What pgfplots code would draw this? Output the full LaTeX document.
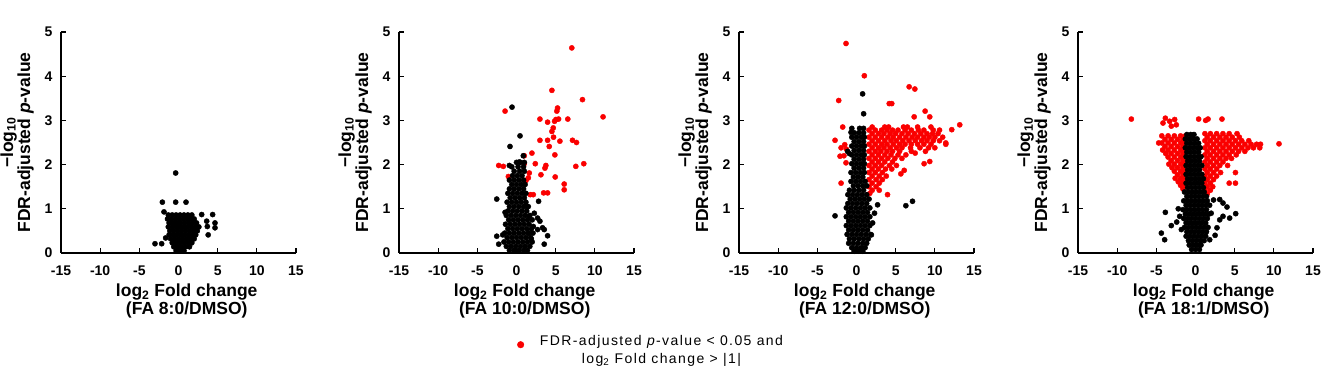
\documentclass[border=0pt]{standalone}
\usepackage{pgfplots}
\pgfplotsset{compat=1.18}
\usepackage{fontspec}
\setmainfont{Liberation Sans}
\newfontfamily\legfont[LetterSpace=10]{Liberation Sans}
\definecolor{myred}{RGB}{250,0,0}
\pgfplotsset{
 volc/.style={
  scale only axis, width=235pt, height=221pt,
  xmin=-15, xmax=15, ymin=0, ymax=5,
  axis x line=bottom, axis y line=left,
  axis line style={-, line width=1.4pt},
  xtick={-15,-10,-5,0,5,10,15}, ytick={0,1,2,3,4,5},
  tick style={black, line width=1.2pt}, major tick length=5pt, tick align=inside,
  /pgf/number format/assume math mode=true,
  ticklabel style={font=\fontsize{14}{14}\selectfont\bfseries},
  xticklabel style={yshift=-9pt},
  yticklabel style={xshift=-5pt},
  clip=false, anchor=south west,
  xlabel style={at={(axis description cs:0.535,0)}, anchor=north, yshift=-31pt, inner sep=0pt,
    align=center, font=\fontsize{17.5}{18}\selectfont\bfseries},
  ylabel style={at={(axis description cs:-0.115,0.5)}, anchor=south, rotate=0, inner sep=0pt,
    align=center, font=\fontsize{17.5}{17}\selectfont\bfseries},
  ylabel={−log\textsubscript{10}\\FDR-adjusted \textit{p}-value},
 },
 blk/.style={only marks, mark=*, mark size=2.6pt, color=black},
 rd/.style={only marks, mark=*, mark size=2.6pt, color=myred},
}
\begin{document}
\begin{tikzpicture}
\path[use as bounding box] (0,0) rectangle (1323pt,366pt);
% ---------------- Panel 1 ----------------
\begin{axis}[volc, at={(61pt,113pt)}, xlabel={log\textsubscript{2} Fold change\\(FA 8:0/DMSO)}]
\addplot[blk] coordinates {
(-1.3,0.86)(-0.8,0.86)(-0.3,0.86)(0.2,0.86)(0.7,0.86)(1.2,0.86)(1.7,0.86)
(-1.4,0.77)(-0.9,0.77)(-0.4,0.77)(0.1,0.77)(0.6,0.77)(1.1,0.77)(1.6,0.77)(2.0,0.77)
(-1.2,0.68)(-0.7,0.68)(-0.2,0.68)(0.3,0.68)(0.8,0.68)(1.3,0.68)(1.8,0.68)(2.3,0.68)
(-1.3,0.59)(-0.8,0.59)(-0.3,0.59)(0.2,0.59)(0.7,0.59)(1.2,0.59)(1.7,0.59)(2.2,0.59)(2.6,0.59)
(-1.1,0.50)(-0.6,0.50)(-0.1,0.50)(0.4,0.50)(0.9,0.50)(1.4,0.50)(1.9,0.50)(2.4,0.50)
(-1.2,0.41)(-0.7,0.41)(-0.2,0.41)(0.3,0.41)(0.8,0.41)(1.3,0.41)(1.8,0.41)(2.2,0.41)
(-1.0,0.32)(-0.5,0.32)(0.0,0.32)(0.5,0.32)(1.0,0.32)(1.5,0.32)(2.0,0.32)
(-0.8,0.23)(-0.3,0.23)(0.2,0.23)(0.7,0.23)(1.2,0.23)(1.7,0.23)
(-0.6,0.14)(-0.1,0.14)(0.4,0.14)(0.9,0.14)(1.4,0.14)
(-0.3,0.05)(0.2,0.05)(0.7,0.05)
(-0.36,1.81)(-2.06,1.15)(-0.36,1.15)(0.96,1.15)(-1.85,0.93)
(2.96,0.87)(4.36,0.87)(3.6,0.72)(4.66,0.68)(3.68,0.6)(4.66,0.57)(3.79,0.41)
(-3.0,0.21)(-2.15,0.21)(-1.64,0.34)
};
\end{axis}
% ---------------- Panel 2 ----------------
\begin{axis}[volc, at={(399pt,113pt)}, xlabel={log\textsubscript{2} Fold change\\(FA 10:0/DMSO)},
  legend style={at={(axis description cs:0.49,-0.415)}, anchor=west, draw=none, fill=none,
    legend cell align=left, nodes={font=\fontsize{14}{18}\selectfont\legfont}}]
\addlegendimage{only marks, mark=*, mark size=3.3pt, color=myred}
\addlegendentry{\begin{tabular}{@{\hspace{14pt}}c@{}}FDR-adjusted \textit{p}-value < 0.05 and\\log\textsubscript{2} Fold change > |1|\end{tabular}}
\addplot[rd, forget plot] coordinates {
(7.06,4.64)(4.52,3.68)(8.42,3.47)(-1.46,3.21)(5.24,3.28)(5.15,3.21)(11.05,3.08)
(2.99,3.03)(5.37,3.03)(5.03,3.02)(4.86,2.98)(6.55,3.03)(3.97,2.96)(4.69,2.83)(4.52,2.75)
(2.99,2.55)(3.97,2.55)(4.18,2.41)(4.73,2.62)(5.54,2.53)(7.15,2.55)(7.66,2.50)
(4.90,2.22)(1.97,2.26)(0.99,2.20)(-2.27,1.98)(-1.68,1.96)(0.99,2.02)(2.40,2.02)
(3.75,1.98)(3.63,1.92)(7.57,1.96)(8.59,2.02)(-1.04,1.73)(1.51,1.70)(1.21,1.64)
(3.12,1.77)(4.94,1.72)(6.09,1.56)(6.09,1.43)(1.76,1.32)(2.14,1.32)(3.46,1.36)(3.97,1.36)
(1.63,1.81)
};
\addplot[blk, forget plot] coordinates {
(-0.57,3.30)(0.45,2.65)(-0.83,2.41)(0.87,2.20)(0.36,2.06)(-0.91,1.98)
(0.0,2.05)(0.5,2.05)(1.0,2.05)
(-0.6,1.95)(0.2,1.95)(0.9,1.95)
(-0.3,1.85)(0.4,1.85)(1.0,1.85)
(-0.5,1.75)(0.1,1.75)(0.7,1.75)
(-0.9,1.65)(-0.3,1.65)(0.3,1.65)(0.9,1.65)
(-0.6,1.55)(0.0,1.55)(0.6,1.55)(1.1,1.55)
(-0.9,1.45)(-0.3,1.45)(0.3,1.45)(0.9,1.45)
(-1.1,1.35)(-0.5,1.35)(0.1,1.35)(0.7,1.35)(1.2,1.35)
(-0.8,1.25)(-0.2,1.25)(0.4,1.25)(1.0,1.25)
(-1.2,1.15)(-0.6,1.15)(0.0,1.15)(0.6,1.15)(1.2,1.15)
(-0.9,1.05)(-0.3,1.05)(0.3,1.05)(0.9,1.05)(1.5,1.05)
(-1.1,0.95)(-0.5,0.95)(0.1,0.95)(0.7,0.95)(1.3,0.95)
(-1.3,0.85)(-0.7,0.85)(-0.1,0.85)(0.5,0.85)(1.1,0.85)(1.7,0.85)
(-1.0,0.75)(-0.4,0.75)(0.2,0.75)(0.8,0.75)(1.4,0.75)(2.0,0.75)
(-1.4,0.65)(-0.8,0.65)(-0.2,0.65)(0.4,0.65)(1.0,0.65)(1.6,0.65)
(-1.1,0.55)(-0.5,0.55)(0.1,0.55)(0.7,0.55)(1.3,0.55)(1.9,0.55)
(-1.5,0.45)(-0.9,0.45)(-0.3,0.45)(0.3,0.45)(0.9,0.45)(1.5,0.45)(2.1,0.45)
(-1.2,0.35)(-0.6,0.35)(0.0,0.35)(0.6,0.35)(1.2,0.35)(1.8,0.35)
(-1.6,0.25)(-1.0,0.25)(-0.4,0.25)(0.2,0.25)(0.8,0.25)(1.4,0.25)(2.0,0.25)
(-1.3,0.15)(-0.7,0.15)(-0.1,0.15)(0.5,0.15)(1.1,0.15)(1.7,0.15)
(-0.9,0.06)(-0.3,0.06)(0.3,0.06)(0.9,0.06)(1.4,0.06)
(-2.52,1.22)(-1.46,0.92)(2.82,1.17)(2.27,0.90)(2.69,0.79)(2.99,0.72)(3.33,0.57)
(2.69,0.53)(3.54,0.53)(3.97,0.39)(3.54,0.20)(-2.52,0.38)(-2.27,0.20)(-1.76,0.41)
(1.89,0.32)(1.55,0.45)(2.14,0.60)(1.63,0.83)(1.21,1.06)
};
\end{axis}
% ---------------- Panel 3 ----------------
\begin{axis}[volc, at={(739pt,113pt)}, xlabel={log\textsubscript{2} Fold change\\(FA 12:0/DMSO)}]
\addplot[rd] coordinates {
(-1.34,4.74)(1.00,4.01)(6.72,3.76)(7.45,3.71)(-2.27,3.45)(4.18,3.38)(4.5,3.38)(8.76,3.21)
(9.35,3.08)(7.36,3.08)(-1.76,2.85)(13.18,2.90)(12.16,2.79)(-2.74,2.55)(11.40,2.49)
(-1.97,2.38)(-2.10,2.19)(-1.97,1.58)(3.96,1.32)(5.66,1.79)(8.63,2.02)(9.35,2.07)
(7.49,2.26)(6.09,1.87)(-1.5,2.45)(-1.3,2.35)(-1.6,2.2)(-1.34,2.04)
(2.0,2.85)(3.6,2.85)(4.1,2.85)(6.0,2.85)(6.5,2.85)(7.8,2.85)(9.5,2.85)
(1.6,2.78)(2.4,2.78)(3.2,2.78)(3.9,2.78)(4.6,2.78)(5.3,2.78)(6.2,2.78)(7.0,2.78)(7.9,2.78)(8.6,2.78)(9.8,2.78)(10.6,2.78)
(2.0,2.70)(2.8,2.70)(3.5,2.70)(4.3,2.70)(5.0,2.70)(5.8,2.70)(6.6,2.70)(7.4,2.70)(8.2,2.70)(9.0,2.70)(9.7,2.70)(10.4,2.70)
(1.6,2.62)(2.4,2.62)(3.2,2.62)(4.0,2.62)(4.7,2.62)(5.5,2.62)(6.3,2.62)(7.1,2.62)(7.8,2.62)(8.6,2.62)(9.3,2.62)(10.0,2.62)(11.0,2.62)
(2.0,2.54)(2.8,2.54)(3.6,2.54)(4.4,2.54)(5.1,2.54)(5.9,2.54)(6.7,2.54)(7.5,2.54)(8.3,2.54)(9.0,2.54)(9.8,2.54)(10.6,2.54)
(1.6,2.46)(2.4,2.46)(3.2,2.46)(3.9,2.46)(4.7,2.46)(5.5,2.46)(6.2,2.46)(7.0,2.46)(7.8,2.46)(8.6,2.46)(9.5,2.46)(11.4,2.46)
(2.0,2.38)(2.8,2.38)(3.5,2.38)(4.3,2.38)(5.1,2.38)(5.8,2.38)(6.9,2.38)(8.1,2.38)(9.2,2.38)(10.0,2.38)
(1.6,2.30)(2.4,2.30)(3.1,2.30)(3.9,2.30)(4.6,2.30)(5.5,2.30)(7.0,2.30)(8.8,2.30)
(2.0,2.22)(2.8,2.22)(3.6,2.22)(4.4,2.22)(5.3,2.22)(6.3,2.22)
(1.6,2.14)(2.4,2.14)(3.2,2.14)(4.0,2.14)(4.9,2.14)(5.8,2.14)
(2.0,2.06)(2.8,2.06)(3.6,2.06)(4.6,2.06)
(1.6,1.98)(2.4,1.98)(3.2,1.98)(4.2,1.98)(5.1,1.98)
(2.0,1.90)(2.8,1.90)(3.7,1.90)(4.5,1.90)
(1.6,1.82)(2.4,1.82)(3.3,1.82)
(2.0,1.74)(2.9,1.74)(3.8,1.74)
(1.6,1.66)(2.5,1.66)(3.3,1.66)
(2.0,1.58)(2.9,1.58)
(1.6,1.50)(2.5,1.50)
(2.0,1.42)(2.9,1.42)
(1.7,1.35)
};
\addplot[blk] coordinates {
(0.78,3.60)(0.91,3.15)(-0.70,2.73)(-1.13,2.30)(-0.91,2.25)(-2.74,0.84)(6.30,1.07)(7.15,1.17)
(2.69,1.09)(2.06,0.68)(1.9,0.41)(2.3,0.9)
(-0.6,2.82)(0.4,2.82)(0.9,2.82)
(-0.3,2.72)(0.3,2.72)(0.9,2.72)
(-0.6,2.62)(0.0,2.62)(0.6,2.62)(1.0,2.62)
(-0.3,2.52)(0.3,2.52)(0.9,2.52)
(-0.6,2.42)(0.0,2.42)(0.6,2.42)(1.0,2.42)
(-0.3,2.32)(0.3,2.32)(0.9,2.32)
(-0.6,2.22)(0.0,2.22)(0.6,2.22)(1.0,2.22)
(-0.3,2.12)(0.3,2.12)(0.9,2.12)
(-0.6,2.02)(0.0,2.02)(0.6,2.02)(1.0,2.02)
(-0.3,1.92)(0.3,1.92)(0.9,1.92)
(-0.7,1.82)(-0.1,1.82)(0.5,1.82)(1.0,1.82)
(-0.4,1.72)(0.2,1.72)(0.8,1.72)
(-0.7,1.62)(-0.1,1.62)(0.5,1.62)(1.1,1.62)
(-0.4,1.52)(0.2,1.52)(0.8,1.52)(1.3,1.52)
(-0.9,1.42)(-0.3,1.42)(0.3,1.42)(0.9,1.42)
(-1.1,1.32)(-0.5,1.32)(0.1,1.32)(0.7,1.32)(1.3,1.32)
(-0.8,1.22)(-0.2,1.22)(0.4,1.22)(1.0,1.22)(1.6,1.22)
(-1.1,1.12)(-0.5,1.12)(0.1,1.12)(0.7,1.12)(1.3,1.12)
(-1.3,1.02)(-0.7,1.02)(-0.1,1.02)(0.5,1.02)(1.1,1.02)(1.7,1.02)
(-1.0,0.92)(-0.4,0.92)(0.2,0.92)(0.8,0.92)(1.4,0.92)
(-1.3,0.82)(-0.7,0.82)(-0.1,0.82)(0.5,0.82)(1.1,0.82)(1.7,0.82)
(-1.0,0.72)(-0.4,0.72)(0.2,0.72)(0.8,0.72)(1.4,0.72)
(-1.3,0.62)(-0.7,0.62)(-0.1,0.62)(0.5,0.62)(1.1,0.62)(1.7,0.62)
(-1.0,0.52)(-0.4,0.52)(0.2,0.52)(0.8,0.52)(1.4,0.52)
(-1.2,0.42)(-0.6,0.42)(0.0,0.42)(0.6,0.42)(1.2,0.42)(1.8,0.42)
(-0.9,0.32)(-0.3,0.32)(0.3,0.32)(0.9,0.32)(1.5,0.32)
(-1.0,0.22)(-0.4,0.22)(0.2,0.22)(0.8,0.22)(1.3,0.22)
(-0.6,0.12)(0.0,0.12)(0.6,0.12)(1.1,0.12)
(-0.3,0.04)(0.3,0.04)(0.8,0.04)
};
\end{axis}
% ---------------- Panel 4 ----------------
\begin{axis}[volc, at={(1078pt,113pt)}, xlabel={log\textsubscript{2} Fold change\\(FA 18:1/DMSO)}]
\addplot[rd] coordinates {
(-8.19,3.03)(-3.85,3.05)(-4.15,2.94)(-3.3,2.98)(-2.66,3.02)(-2.45,2.90)(-3.09,2.87)
(0.40,3.03)(1.60,3.03)(1.3,3.0)(3.38,3.03)(10.66,2.47)
(-4.3,2.65)(-3.5,2.65)(-2.7,2.65)(-1.9,2.65)(-1.3,2.65)
(-3.9,2.57)(-3.1,2.57)(-2.3,2.57)(-1.6,2.57)
(-4.7,2.49)(-4.3,2.49)(-3.5,2.49)(-2.7,2.49)(-1.9,2.49)(-1.3,2.49)
(-3.9,2.41)(-3.1,2.41)(-2.3,2.41)(-1.6,2.41)
(-4.2,2.33)(-3.5,2.33)(-2.7,2.33)(-1.9,2.33)(-1.3,2.33)
(-3.8,2.25)(-3.1,2.25)(-2.3,2.25)(-1.6,2.25)
(-3.5,2.17)(-2.7,2.17)(-1.9,2.17)(-1.3,2.17)
(-3.1,2.09)(-2.3,2.09)(-1.6,2.09)
(-3.4,2.01)(-2.7,2.01)(-1.9,2.01)(-1.3,2.01)
(-3.0,1.93)(-2.3,1.93)(-1.6,1.93)
(-2.7,1.85)(-1.9,1.85)(-1.3,1.85)
(-2.3,1.77)(-1.6,1.77)
(-2.6,1.69)(-1.9,1.69)(-1.3,1.69)
(-2.2,1.61)(-1.6,1.61)
(-1.9,1.53)(-1.3,1.53)
(-1.6,1.45)
(1.2,2.70)(1.9,2.70)(2.7,2.70)(3.5,2.70)(4.3,2.70)(5.3,2.70)
(1.5,2.62)(2.3,2.62)(3.1,2.62)(3.9,2.62)(4.7,2.62)(5.6,2.62)
(1.2,2.54)(1.9,2.54)(2.7,2.54)(3.5,2.54)(4.3,2.54)(5.1,2.54)(5.9,2.54)(6.8,2.54)
(1.5,2.46)(2.3,2.46)(3.1,2.46)(3.9,2.46)(4.7,2.46)(5.5,2.46)(6.3,2.46)(7.1,2.46)(7.8,2.46)(8.3,2.46)
(1.2,2.38)(1.9,2.38)(2.7,2.38)(3.5,2.38)(4.3,2.38)(5.1,2.38)(5.9,2.38)(6.7,2.38)(7.4,2.38)(8.2,2.38)
(1.5,2.30)(2.3,2.30)(3.1,2.30)(3.9,2.30)(4.7,2.30)(5.5,2.30)(6.3,2.30)
(1.2,2.22)(1.9,2.22)(2.7,2.22)(3.5,2.22)(4.3,2.22)(5.2,2.22)
(1.5,2.14)(2.3,2.14)(3.1,2.14)(3.9,2.14)(4.6,2.14)
(1.2,2.06)(1.9,2.06)(2.7,2.06)(3.5,2.06)
(1.5,1.98)(2.3,1.98)(3.1,1.98)(4.1,1.98)
(1.2,1.90)(1.9,1.90)(2.7,1.90)
(1.5,1.82)(2.3,1.82)(3.2,1.82)(5.1,1.82)
(1.2,1.74)(1.9,1.74)(2.7,1.74)
(1.5,1.66)(2.3,1.66)
(1.2,1.58)(1.9,1.58)(4.3,1.58)(5.1,1.58)
(1.5,1.50)(2.2,1.50)
(1.2,1.42)(1.9,1.42)
(1.5,1.34)
};
\addplot[blk] coordinates {
(-1.1,2.68)(-0.6,2.68)(-0.2,2.68)
(-1.3,2.58)(-0.8,2.58)(-0.3,2.58)(0.2,2.58)
(-1.1,2.48)(-0.6,2.48)(-0.1,2.48)(0.4,2.48)
(-1.3,2.38)(-0.8,2.38)(-0.3,2.38)(0.2,2.38)(0.6,2.38)
(-1.1,2.28)(-0.6,2.28)(-0.1,2.28)(0.4,2.28)
(-1.2,2.18)(-0.7,2.18)(-0.2,2.18)(0.3,2.18)(0.7,2.18)
(-1.0,2.08)(-0.5,2.08)(0.0,2.08)(0.5,2.08)
(-1.2,1.98)(-0.7,1.98)(-0.2,1.98)(0.3,1.98)(0.8,1.98)
(-1.0,1.88)(-0.5,1.88)(0.0,1.88)(0.5,1.88)
(-1.2,1.78)(-0.7,1.78)(-0.2,1.78)(0.3,1.78)(0.8,1.78)
(-1.0,1.68)(-0.5,1.68)(0.0,1.68)(0.5,1.68)(1.0,1.68)
(-1.2,1.58)(-0.7,1.58)(-0.2,1.58)(0.3,1.58)(0.8,1.58)
(-1.0,1.48)(-0.5,1.48)(0.0,1.48)(0.5,1.48)(1.0,1.48)
(-1.4,1.38)(-0.9,1.38)(-0.4,1.38)(0.1,1.38)(0.6,1.38)(1.1,1.38)
(-1.1,1.28)(-0.6,1.28)(-0.1,1.28)(0.4,1.28)(0.9,1.28)(1.4,1.28)
(-1.5,1.18)(-1.0,1.18)(-0.5,1.18)(0.0,1.18)(0.5,1.18)(1.0,1.18)(1.5,1.18)
(-1.2,1.08)(-0.7,1.08)(-0.2,1.08)(0.3,1.08)(0.8,1.08)(1.3,1.08)(1.8,1.08)
(-1.6,0.98)(-1.1,0.98)(-0.6,0.98)(-0.1,0.98)(0.4,0.98)(0.9,0.98)(1.4,0.98)
(-1.3,0.88)(-0.8,0.88)(-0.3,0.88)(0.2,0.88)(0.7,0.88)(1.2,0.88)(1.7,0.88)
(-1.5,0.78)(-1.0,0.78)(-0.5,0.78)(0.0,0.78)(0.5,0.78)(1.0,0.78)(1.5,0.78)
(-1.2,0.68)(-0.7,0.68)(-0.2,0.68)(0.3,0.68)(0.8,0.68)(1.3,0.68)
(-1.4,0.58)(-0.9,0.58)(-0.4,0.58)(0.1,0.58)(0.6,0.58)(1.1,0.58)(1.6,0.58)
(-1.1,0.48)(-0.6,0.48)(-0.1,0.48)(0.4,0.48)(0.9,0.48)(1.4,0.48)
(-1.2,0.38)(-0.7,0.38)(-0.2,0.38)(0.3,0.38)(0.8,0.38)(1.3,0.38)
(-0.9,0.28)(-0.4,0.28)(0.1,0.28)(0.6,0.28)(1.1,0.28)
(-0.8,0.18)(-0.3,0.18)(0.2,0.18)(0.7,0.18)
(-0.5,0.08)(0.0,0.08)(0.5,0.08)
(-3.85,0.92)(-3.09,0.62)(-4.36,0.45)(-3.94,0.30)(-2.02,0.83)(-1.81,0.53)(-2.4,0.7)(-2.2,1.0)
(3.09,1.21)(3.51,1.13)(4.02,1.04)(5.13,0.89)(3.09,0.75)(2.74,0.57)(1.81,0.30)(2.0,0.9)
(3.51,0.83)(4.36,0.79)(2.3,1.2)(2.5,0.4)
};
\end{axis}
\end{tikzpicture}
\end{document}
